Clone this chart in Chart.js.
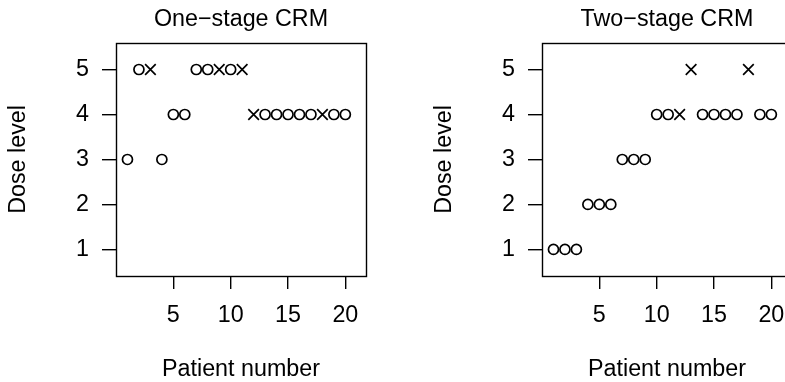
<!DOCTYPE html>
<html>
<head>
<meta charset="utf-8">
<script src="https://cdn.jsdelivr.net/npm/chart.js@4.4.1/dist/chart.umd.min.js"></script>
<style>
  html, body { margin: 0; padding: 0; background: #fff; overflow: hidden; width: 785px; height: 382px; }
  canvas { position: absolute; top: 0; }
  #c1 { left: 0; }
  #c2 { left: 426px; }
</style>
</head>
<body>
<canvas id="c1" width="426" height="382"></canvas>
<canvas id="c2" width="400" height="382"></canvas>
<script>
// ---- data ----
const patients = [1,2,3,4,5,6,7,8,9,10,11,12,13,14,15,16,17,18,19,20];
const oneStageDose = [3,5,5,3,4,4,5,5,5,5,5,4,4,4,4,4,4,4,4,4];
const oneStageTox  = ['o','o','x','o','o','o','o','o','x','o','x','x','o','o','o','o','o','x','o','o'];
const twoStageDose = [1,1,1,2,2,2,3,3,3,4,4,4,5,4,4,4,4,5,4,4];
const twoStageTox  = ['o','o','o','o','o','o','o','o','o','o','o','x','x','o','o','o','o','x','o','o'];
const xTicks = [5,10,15,20];
const yTicks = [1,2,3,4,5];
const panelTitles = ['One\u2212stage CRM', 'Two\u2212stage CRM'];
const xTitle = 'Patient number';
const yTitle = 'Dose level';

const FS = 23.3;
Chart.defaults.color = '#000';
Chart.defaults.font.family = "'Liberation Sans', Arial, Helvetica, sans-serif";

const boxPlugin = {
  id: 'box',
  afterDraw(chart) {
    const a = chart.chartArea, ctx = chart.ctx;
    ctx.save();
    ctx.strokeStyle = '#000';
    ctx.lineWidth = 1.4;
    ctx.strokeRect(Math.round(a.left) + 0.5, Math.round(a.top) + 0.5,
                   Math.round(a.right - a.left), Math.round(a.bottom - a.top));
    ctx.restore();
  }
};

function makeChart(id, title, dose, tox, rightPad) {
  const pts = patients.map((p, i) => ({ x: p, y: dose[i] }));
  return new Chart(document.getElementById(id), {
    type: 'scatter',
    data: {
      datasets: [{
        data: pts,
        pointStyle: tox.map(t => t === 'o' ? 'circle' : 'crossRot'),
        pointRadius: tox.map(t => t === 'o' ? 5 : 7.5),
        pointBorderWidth: 1.7,
        pointBorderColor: '#000',
        pointBackgroundColor: 'rgba(0,0,0,0)',
        showLine: false
      }]
    },
    options: {
      responsive: false,
      animation: false,
      devicePixelRatio: 1,
      events: [],
      layout: { padding: { left: 0, right: rightPad, top: 0, bottom: 0 } },
      plugins: {
        legend: { display: false },
        tooltip: { enabled: false },
        title: {
          display: true,
          fullSize: false,
          text: title,
          color: '#000',
          font: { size: FS, weight: 'normal', lineHeight: 1.2 },
          padding: { top: 5.4, bottom: 9.6 }
        }
      },
      scales: {
        x: {
          type: 'linear',
          min: 0,
          max: 21.8,
          afterBuildTicks: s => { s.ticks = xTicks.map(v => ({ value: v })); },
          afterFit: s => { s.height = 106; },
          border: { display: false },
          grid: { drawOnChartArea: false, drawTicks: true, tickLength: 13, color: '#000', lineWidth: 1.4 },
          ticks: { padding: 13, font: { size: FS }, color: '#000', maxRotation: 0 },
          title: { display: true, text: xTitle, color: '#000', font: { size: FS, lineHeight: 1 }, padding: { top: 0, bottom: 1 } }
        },
        y: {
          type: 'linear',
          min: 0.41,
          max: 5.59,
          afterBuildTicks: s => { s.ticks = yTicks.map(v => ({ value: v })); },
          afterFit: s => { s.width = 116; },
          border: { display: false },
          grid: { drawOnChartArea: false, drawTicks: true, tickLength: 14, color: '#000', lineWidth: 1.4 },
          ticks: { padding: 13, font: { size: FS }, color: '#000' },
          title: { display: true, text: yTitle, color: '#000', font: { size: FS, lineHeight: 1 }, padding: { top: 7, bottom: 0 } }
        }
      }
    },
    plugins: [boxPlugin]
  });
}

makeChart('c1', panelTitles[0], oneStageDose, oneStageTox, 60);
makeChart('c2', panelTitles[1], twoStageDose, twoStageTox, 34);
</script>
</body>
</html>
